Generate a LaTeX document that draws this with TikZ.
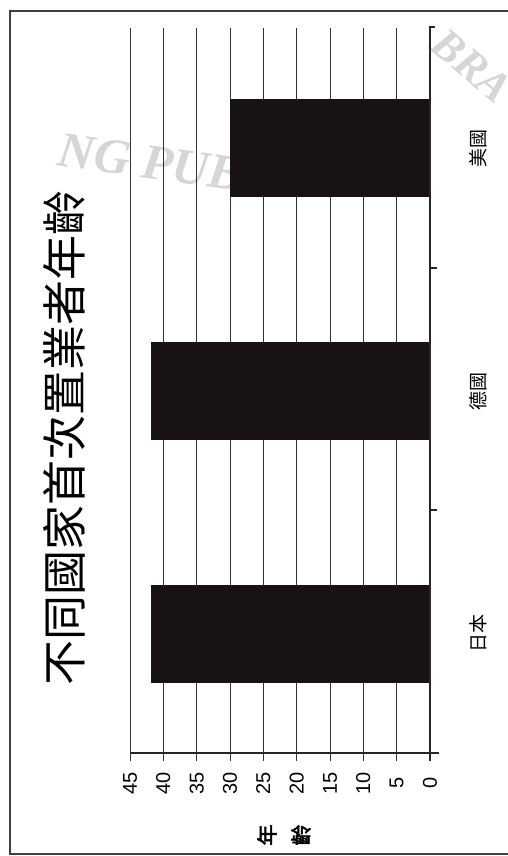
\documentclass[tikz,border=0pt]{standalone}
\usepackage{fontspec}
\setmainfont{Liberation Sans}
\newfontfamily\cjk{Noto Sans CJK TC}
\newfontfamily\cjkbold[FakeBold=2.5]{Noto Sans CJK TC}
\newfontfamily\wmfont{Liberation Serif}
\definecolor{barcol}{RGB}{24,18,18}
\begin{document}
\begin{tikzpicture}[x=1pt,y=-1pt,
  frameline/.style={draw=black!75,line width=1.4pt},
  gridline/.style={draw=black!80,line width=1pt},
  axisline/.style={draw=black!85,line width=1.2pt},
  bar/.style={fill=barcol,draw=none},
  ticklabel/.style={rotate=90,inner sep=0pt,font=\fontsize{20}{20}\selectfont},
  catlabel/.style={rotate=90,inner sep=0pt,font=\cjk\fontsize{19}{19}\selectfont},
  wmark/.style={text=black!16,inner sep=0pt}]
\useasboundingbox (0,0) rectangle (508,856);
\fill[white] (0,0) rectangle (508,856);
% watermark
\node[wmark,rotate=-8,font=\wmfont\bfseries\itshape\fontsize{50}{50}\selectfont] (wm1) at (150,162) {NG PUB};
\node[wmark,rotate=-40,font=\wmfont\bfseries\itshape\fontsize{44}{44}\selectfont] (wm2) at (472,66) {BRA};
% frame
\draw[frameline] (508,11) -- (10,11) -- (10,854) -- (508,854);
% gridlines
\foreach \v in {5,10,...,45}{
  \draw[gridline] ({430-6.6667*\v},28) -- ({430-6.6667*\v},761);
  \node[ticklabel] (t\v) at ({430-6.6667*\v},783) {\v};
}
\node[ticklabel] (t0) at (430,783) {0};
% bars
\fill[bar] (230,99) rectangle (430,197);
\fill[bar] (151,342) rectangle (430,440);
\fill[bar] (151,585) rectangle (430,683);
% axes
\draw[axisline] (435,27) -- (430,27) -- (430,761);
\draw[axisline] (130,753) -- (439,753);
\draw[axisline] (430,268) -- (437,268);
\draw[axisline] (430,510) -- (437,510);
% category labels
\node[catlabel] (us) at (478,148) {美國};
\node[catlabel] (de) at (478,391) {德國};
\node[catlabel] (jp) at (478,633) {日本};
% title
\node[rotate=90,inner sep=0pt,font=\cjk\fontsize{45}{45}\selectfont] (title) at (64,438) {不同國家首次置業者年齡};
% axis title
\node[rotate=90,inner sep=0pt,font=\cjkbold\fontsize{21}{21}\selectfont] (ya) at (267,835) {年};
\node[rotate=90,inner sep=0pt,font=\cjkbold\fontsize{21}{21}\selectfont] (yb) at (301,835) {齡};
\end{tikzpicture}
\end{document}
